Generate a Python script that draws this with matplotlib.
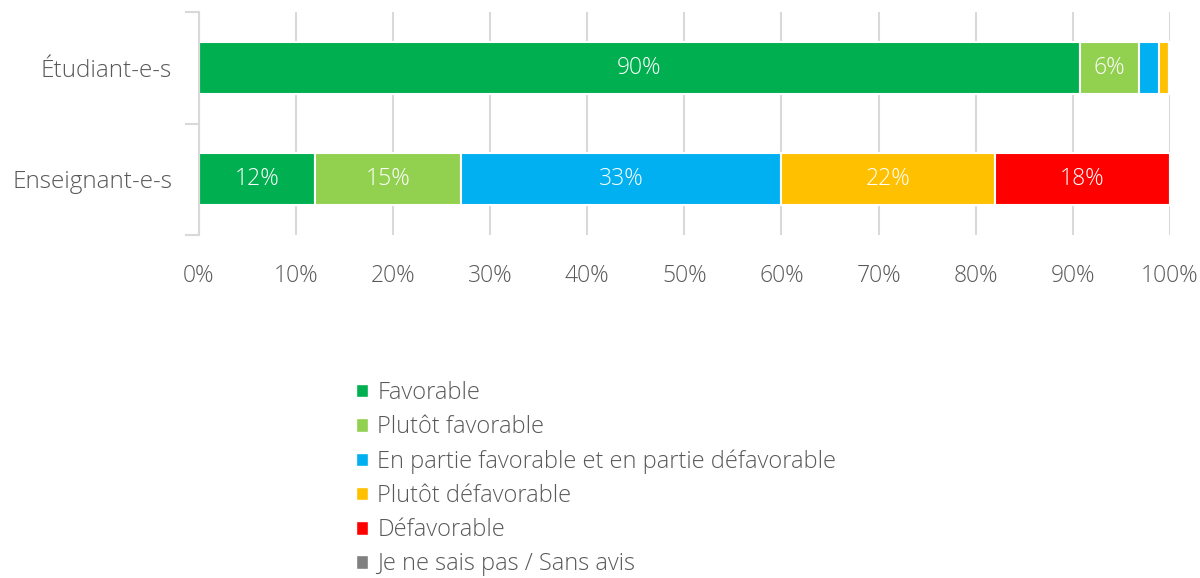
import matplotlib
matplotlib.use("Agg")
import matplotlib.pyplot as plt
from matplotlib.patches import Patch
import numpy as np

plt.rcParams["font.family"] = ["Open Sans", "DejaVu Sans"]
plt.rcParams["font.weight"] = "light"

groups = ["Étudiant-e-s", "Enseignant-e-s"]
answers = ["Favorable", "Plutôt favorable",
           "En partie favorable et en partie défavorable",
           "Plutôt défavorable", "Défavorable", "Je ne sais pas / Sans avis"]
colors = ["#00B050", "#92D050", "#00B0F0", "#FFC000", "#FF0000", "#808080"]

# % par groupe
etudiants = [90.7, 6.1, 2.1, 1.0, 0.0, 0.0]
enseignants = [12, 15, 33, 22, 18, 0]
values = np.array([etudiants, enseignants])

txt = "#595959"
grid = "#D9D9D9"

fig = plt.figure(figsize=(12, 5.78), dpi=100)
ax = fig.add_axes([0.1655, 0.5934, 0.8095, 0.3858])

y = np.arange(len(groups))
left = np.zeros(len(groups))
for j, name in enumerate(answers):
    vals = values[:, j]
    bars = ax.barh(y, vals, left=left, height=0.47, color=colors[j],
                   edgecolor="white", linewidth=1.5, zorder=3, label=name)
    for i, v in enumerate(vals):
        if v >= 5:
            ax.text(left[i] + v / 2, y[i], "%d%%" % int(v), color="white",
                    ha="center", va="center", fontsize=16.5, zorder=4)
    left = left + vals

ax.set_xlim(0, 100)
ax.set_ylim(1.5, -0.5)
ax.set_xticks(np.arange(0, 101, 10))
ax.set_xticklabels(["%d%%" % t for t in range(0, 101, 10)])
ax.set_yticks(y)
ax.set_yticklabels(groups)
ax.set_yticks([-0.5, 0.5, 1.5], minor=True)
ax.tick_params(axis="x", length=0, pad=21, labelsize=16.5, labelcolor=txt)
ax.tick_params(axis="y", which="major", length=0, pad=19, labelsize=17.5, labelcolor=txt)
ax.tick_params(axis="y", which="minor", length=10, width=1.5, color=grid)
ax.grid(axis="x", color=grid, linewidth=1.5, zorder=0)
for s in ["top", "right", "bottom"]:
    ax.spines[s].set_visible(False)
ax.spines["left"].set_color(grid)
ax.spines["left"].set_linewidth(1.5)
ax.spines["left"].set_zorder(5)

handles = [Patch(facecolor=c, edgecolor="white", label=a) for a, c in zip(answers, colors)]
fig.legend(handles=handles, loc="upper left", bbox_to_anchor=(0.287, 0.361),
           frameon=False, fontsize=17, labelcolor=txt, handlelength=0.5,
           handleheight=0.5, handletextpad=0.4, labelspacing=0.43, borderpad=0)

fig.savefig("out.png", dpi=100)
